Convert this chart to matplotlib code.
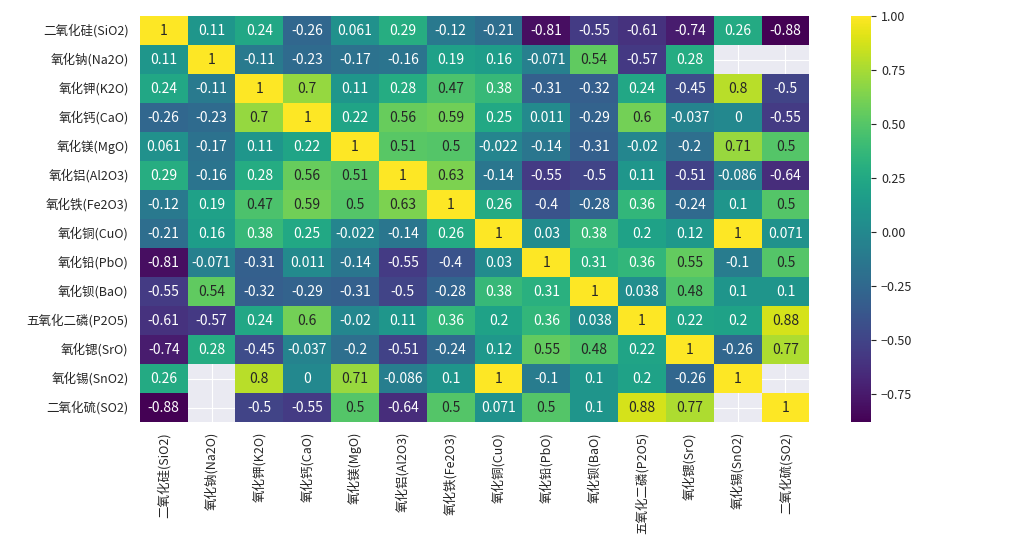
import numpy as np
import pandas as pd
import matplotlib
matplotlib.use("Agg")
import matplotlib.pyplot as plt
import seaborn as sns

sns.set_style("darkgrid")
plt.rcParams['font.family'] = ['Noto Sans CJK SC', 'DejaVu Sans']
plt.rcParams['axes.unicode_minus'] = True

labels = ['二氧化硅(SiO2)', '氧化钠(Na2O)', '氧化钾(K2O)', '氧化钙(CaO)', '氧化镁(MgO)',
          '氧化铝(Al2O3)', '氧化铁(Fe2O3)', '氧化铜(CuO)', '氧化铅(PbO)', '氧化钡(BaO)',
          '五氧化二磷(P2O5)', '氧化锶(SrO)', '氧化锡(SnO2)', '二氧化硫(SO2)']

nan = np.nan
corr = [
    [1, 0.11, 0.24, -0.26, 0.061, 0.29, -0.12, -0.21, -0.81, -0.55, -0.61, -0.74, 0.26, -0.88],
    [0.11, 1, -0.11, -0.23, -0.17, -0.16, 0.19, 0.16, -0.071, 0.54, -0.57, 0.28, nan, nan],
    [0.24, -0.11, 1, 0.7, 0.11, 0.28, 0.47, 0.38, -0.31, -0.32, 0.24, -0.45, 0.8, -0.5],
    [-0.26, -0.23, 0.7, 1, 0.22, 0.56, 0.59, 0.25, 0.011, -0.29, 0.6, -0.037, 0, -0.55],
    [0.061, -0.17, 0.11, 0.22, 1, 0.51, 0.5, -0.022, -0.14, -0.31, -0.02, -0.2, 0.71, 0.5],
    [0.29, -0.16, 0.28, 0.56, 0.51, 1, 0.63, -0.14, -0.55, -0.5, 0.11, -0.51, -0.086, -0.64],
    [-0.12, 0.19, 0.47, 0.59, 0.5, 0.63, 1, 0.26, -0.4, -0.28, 0.36, -0.24, 0.1, 0.5],
    [-0.21, 0.16, 0.38, 0.25, -0.022, -0.14, 0.26, 1, 0.03, 0.38, 0.2, 0.12, 1, 0.071],
    [-0.81, -0.071, -0.31, 0.011, -0.14, -0.55, -0.4, 0.03, 1, 0.31, 0.36, 0.55, -0.1, 0.5],
    [-0.55, 0.54, -0.32, -0.29, -0.31, -0.5, -0.28, 0.38, 0.31, 1, 0.038, 0.48, 0.1, 0.1],
    [-0.61, -0.57, 0.24, 0.6, -0.02, 0.11, 0.36, 0.2, 0.36, 0.038, 1, 0.22, 0.2, 0.88],
    [-0.74, 0.28, -0.45, -0.037, -0.2, -0.51, -0.24, 0.12, 0.55, 0.48, 0.22, 1, -0.26, 0.77],
    [0.26, nan, 0.8, 0, 0.71, -0.086, 0.1, 1, -0.1, 0.1, 0.2, -0.26, 1, nan],
    [-0.88, nan, -0.5, -0.55, 0.5, -0.64, 0.5, 0.071, 0.5, 0.1, 0.88, 0.77, nan, 1],
]
df = pd.DataFrame(corr, index=labels, columns=labels)

fig = plt.figure(figsize=(10.13, 5.4), dpi=100)
ax = fig.add_axes([0.138, 0.218, 0.661, 0.752])
cax = fig.add_axes([0.840, 0.218, 0.020, 0.752])
sns.heatmap(df, annot=True, cmap='viridis', ax=ax, cbar_ax=cax,
            annot_kws={'fontsize': 10})
ax.tick_params(axis='y', labelsize=9, length=0, pad=8)
ax.tick_params(axis='x', labelsize=9, length=0, pad=7)
plt.setp(ax.get_xticklabels(), rotation=90)
plt.setp(ax.get_yticklabels(), rotation=0)
cax.tick_params(labelsize=9)

fig.savefig('out.png', dpi=100, facecolor='white')
